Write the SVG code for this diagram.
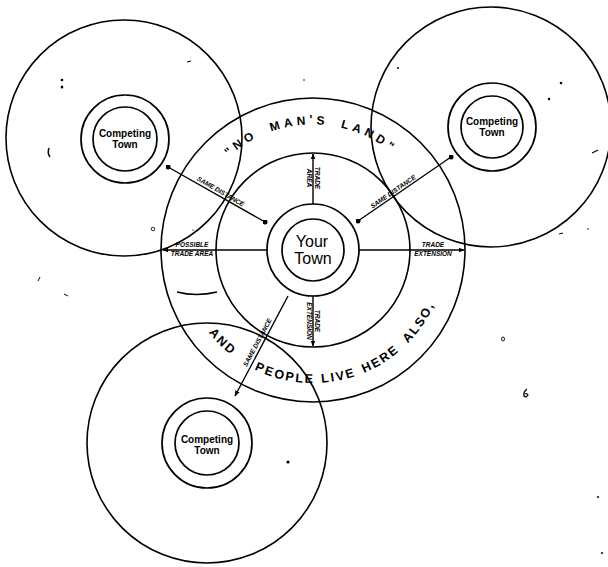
<svg xmlns="http://www.w3.org/2000/svg" width="608" height="567" viewBox="0 0 608 567">
<style>
  .ring{fill:none;stroke:#000;stroke-width:1.7}
  .big{fill:none;stroke:#000;stroke-width:1.6}
  .conn{fill:none;stroke:#000;stroke-width:1.4}
  .town{font-family:"Liberation Sans",Arial,sans-serif;font-weight:bold;fill:#000;text-anchor:middle}
  .your{font-family:"Liberation Sans",Arial,sans-serif;fill:#000;text-anchor:middle;font-size:16px}
  .small{font-family:"Liberation Sans",Arial,sans-serif;font-weight:bold;font-style:italic;fill:#000;text-anchor:middle;font-size:6.5px}
  .arcT{font-family:"Liberation Sans",Arial,sans-serif;font-weight:bold;fill:#000;font-size:12px;letter-spacing:4px}
  .arcB{font-family:"Liberation Sans",Arial,sans-serif;font-weight:bold;fill:#000;font-size:12.5px;letter-spacing:2px}
  .speck{fill:#000}
</style>
<defs>
  <marker id="arr" viewBox="0 0 10 10" refX="9" refY="5" markerWidth="6" markerHeight="6" orient="auto" markerUnits="userSpaceOnUse">
    <path d="M0,1 L10,5 L0,9 Z" fill="#000"/>
  </marker>
  <marker id="dot" viewBox="0 0 10 10" refX="5" refY="5" markerWidth="5" markerHeight="5" markerUnits="userSpaceOnUse">
    <circle cx="5" cy="5" r="5" fill="#000"/>
  </marker>
  <path id="topArc" d="M204.3,187.25 A125.5,125.5 0 0 1 421.7,187.25"/>
  <path id="botArc" d="M197.8,316.5 A133,133 0 0 0 438,295.5"/>
</defs>

<g id="your-town-area">
  <circle class="big" cx="313" cy="250" r="152"/>
  <circle class="big" cx="313" cy="250" r="97"/>
</g>

<g id="competing-town-tl">
  <circle class="big" cx="124" cy="138" r="118"/>
  <circle class="ring" cx="125" cy="139" r="44"/>
  <circle class="ring" cx="125" cy="139" r="32"/>
  <text class="town" x="125" y="137" font-size="10">Competing</text>
  <text class="town" x="125" y="148" font-size="10">Town</text>
</g>

<g id="competing-town-tr">
  <circle class="big" cx="491" cy="127" r="120"/>
  <circle class="ring" cx="492" cy="127" r="44"/>
  <circle class="ring" cx="492" cy="127" r="31"/>
  <text class="town" x="492" y="125" font-size="10">Competing</text>
  <text class="town" x="492" y="136" font-size="10">Town</text>
</g>

<g id="competing-town-bl">
  <circle class="big" cx="207" cy="443" r="120"/>
  <circle class="ring" cx="207" cy="443" r="45"/>
  <circle class="ring" cx="207" cy="443" r="32"/>
  <text class="town" x="207" y="443" font-size="10">Competing</text>
  <text class="town" x="207" y="454" font-size="10">Town</text>
</g>

<g id="your-town">
  <circle class="ring" cx="313" cy="250" r="46"/>
  <circle class="ring" cx="313" cy="250" r="31"/>
  <text class="your" x="312" y="247">Your</text>
  <text class="your" x="313" y="264">Town</text>
</g>

<g id="connectors">
  <line class="conn" x1="313" y1="204" x2="313" y2="154" marker-end="url(#arr)"/>
  <line class="conn" x1="313" y1="296" x2="313" y2="346" marker-end="url(#arr)"/>
  <line class="conn" x1="267" y1="250" x2="163" y2="250" marker-end="url(#arr)"/>
  <line class="conn" x1="359" y1="250" x2="464" y2="250" marker-end="url(#arr)"/>
  <line class="conn" x1="168" y1="167" x2="265" y2="222" marker-start="url(#dot)" marker-end="url(#dot)"/>
  <line class="conn" x1="358" y1="221" x2="451" y2="157" marker-start="url(#dot)" marker-end="url(#dot)"/>
  <line class="conn" x1="288" y1="296" x2="235" y2="396" marker-end="url(#arr)"/>
</g>

<g id="labels">
  <g transform="translate(313,178) rotate(90)">
    <text class="small" x="0" y="-2">TRADE</text>
    <text class="small" x="0" y="6">AREA</text>
  </g>
  <g transform="translate(313,321) rotate(90)">
    <text class="small" x="0" y="-2">TRADE</text>
    <text class="small" x="0" y="6">EXTENSION</text>
  </g>
  <text class="small" x="192" y="247">POSSIBLE</text>
  <text class="small" x="192" y="256">TRADE AREA</text>
  <text class="small" x="433" y="247">TRADE</text>
  <text class="small" x="433" y="256">EXTENSION</text>
  <g transform="translate(218,196) rotate(30)">
    <text class="small" x="0" y="-3">SAME DISTANCE</text>
  </g>
  <g transform="translate(396,196) rotate(-34.8)">
    <text class="small" x="0" y="-3">SAME DISTANCE</text>
  </g>
  <g transform="translate(262,345) rotate(-62)">
    <text class="small" x="0" y="-3">SAME DISTANCE</text>
  </g>
  <text class="arcT" text-anchor="middle"><textPath href="#topArc" startOffset="57">"NO</textPath><textPath href="#topArc" startOffset="114"> MAN'S</textPath><textPath href="#topArc" startOffset="185"> LAND"</textPath></text>
  <text class="arcB" text-anchor="middle"><textPath href="#botArc" startOffset="36">AND</textPath><textPath href="#botArc" startOffset="107"> PEOPLE</textPath><textPath href="#botArc" startOffset="163"> LIVE</textPath><textPath href="#botArc" startOffset="210"> HERE</textPath><textPath href="#botArc" startOffset="266"> ALSO,</textPath></text>
</g>

<g id="specks">
  <ellipse class="speck" cx="62" cy="80" rx="1.3" ry="1.3"/>
  <ellipse class="speck" cx="62" cy="87" rx="1.3" ry="1.5"/>
  <path d="M49,148 Q47,153 50,157" fill="none" stroke="#000" stroke-width="1.5"/>
  <path d="M187,62 L191,61" stroke="#000" stroke-width="1"/>
  <ellipse class="speck" cx="398" cy="68" rx="1" ry="1"/>
  <ellipse class="speck" cx="561" cy="83" rx="1.3" ry="1.3"/>
  <ellipse class="speck" cx="549" cy="99" rx="1.2" ry="1.2"/>
  <path d="M592,153 L598,150" stroke="#000" stroke-width="1.2"/>
  <ellipse class="speck" cx="304" cy="80" rx="0.8" ry="0.8"/>
  <circle cx="153" cy="229" r="1.8" fill="none" stroke="#000" stroke-width="0.8"/>
  <ellipse class="speck" cx="193" cy="230" rx="0.8" ry="0.6"/>
  <path d="M177,292 Q196,297 217,292" fill="none" stroke="#000" stroke-width="1.6"/>
  <path d="M559,234 L563,233" stroke="#000" stroke-width="1"/>
  <ellipse class="speck" cx="588" cy="229" rx="0.8" ry="0.8"/>
  <ellipse cx="503" cy="339" rx="1.5" ry="2" fill="none" stroke="#000" stroke-width="0.9"/>
  <path d="M527,389 Q523,392 524,396 Q526,398 528,395 Q527,393 525,394" fill="none" stroke="#000" stroke-width="1.3"/>
  <ellipse class="speck" cx="288" cy="462" rx="1.6" ry="1.6"/>
  <ellipse class="speck" cx="598" cy="497" rx="1" ry="1"/>
  <ellipse class="speck" cx="602" cy="553" rx="1" ry="1"/>
  <path d="M40,277 L38,281" stroke="#000" stroke-width="1"/>
  <path d="M64,294 L68,296" stroke="#000" stroke-width="1"/>
</g>
</svg>
